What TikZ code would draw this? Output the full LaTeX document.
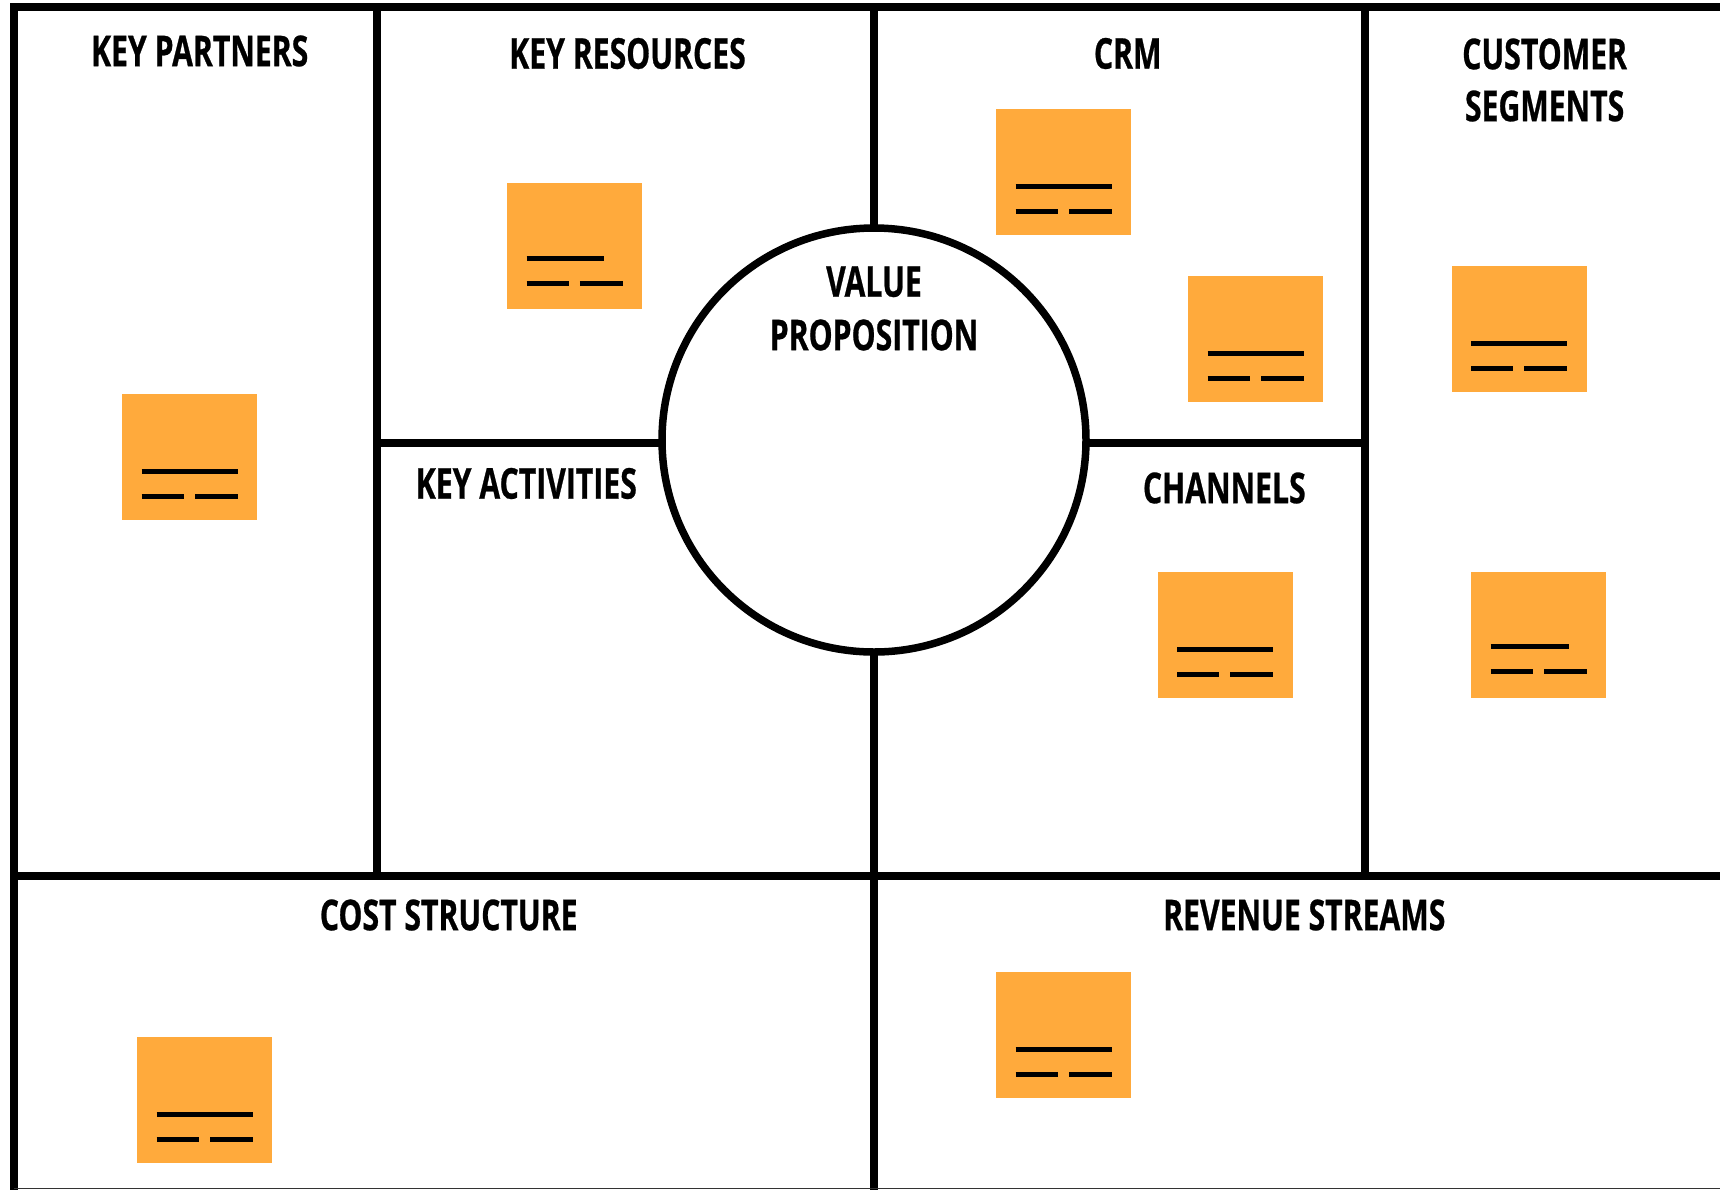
\documentclass[tikz,border=0pt]{standalone}
\usepackage{fontspec}
\setmainfont{Open Sans}[BoldFont={* Bold}]
\newfontfamily\labelfont{Open Sans Bold}[FakeStretch=0.71, FakeBold=0.6]
\definecolor{noteorange}{HTML}{FFAA3C}
\tikzset{
  grid/.style={line width=8pt, black},
  note/.style={fill=noteorange, draw=none, minimum width=135pt, minimum height=126pt, inner sep=0pt, anchor=north west},
  noteline/.style={line width=5pt, black, line cap=butt},
  title/.style={font=\labelfont\fontsize{42.5}{52}\selectfont, inner sep=0pt, align=center, text=black},
}
\newcommand\stickynote[6]{% name, x, y, long end, dy long, dy short
  \node[note] (#1) at (#2,#3) {};
  \draw[noteline] ([shift={(19.7,#5)}]#1.north west) -- ([shift={(#4,#5)}]#1.north west);
  \draw[noteline] ([shift={(19.7,#6)}]#1.north west) -- ([shift={(62,#6)}]#1.north west);
  \draw[noteline] ([shift={(73,#6)}]#1.north west) -- ([shift={(115.7,#6)}]#1.north west);
}
\begin{document}
\begin{tikzpicture}[x=1pt, y=-1pt]
\useasboundingbox (0,0) rectangle (1720,1189);
\fill[white] (0,0) rectangle (1720,1189);
% grid
\draw[grid, line join=miter] (14,1193) -- (14,7) -- (1724,7);
\draw[grid] (377,7) -- (377,876);
\draw[grid] (874,7) -- (874,1193);
\draw[grid] (1365,7) -- (1365,876);
\draw[grid] (10,876) -- (1724,876);
\draw[grid] (377,443) -- (1365,443);
\draw[line width=1.5pt, black!80] (14,1188.3) -- (1720,1188.3);
% value proposition circle
\node[circle, draw=black, fill=white, line width=7.5pt, minimum size=424pt, inner sep=0pt] (vp) at (874,440) {};
% titles
\node[title] (kp) at (199.7,51) {KEY PARTNERS};
\node[title] (kr) at (627.5,53.5) {KEY RESOURCES};
\node[title] (crm) at (1127.7,53.5) {CRM};
\node[title] (cs1) at (1544.6,54) {CUSTOMER};
\node[title] (cs2) at (1544.6,106) {SEGMENTS};
\node[title] (vp1) at (874,281.7) {VALUE};
\node[title] (vp2) at (874,335) {PROPOSITION};
\node[title] (ka) at (526.3,483.5) {KEY ACTIVITIES};
\node[title] (ch) at (1224.3,488) {CHANNELS};
\node[title] (cost) at (448.7,915) {COST STRUCTURE};
\node[title] (rev) at (1304.3,915) {REVENUE STREAMS};
% sticky notes
\stickynote{n1}{122}{394}{115.7}{77.8}{102.8}
\stickynote{n2}{506.8}{183.2}{97.6}{75.5}{100.5}
\stickynote{n3}{996}{108.6}{115.7}{77.8}{102.8}
\stickynote{n4}{1188}{275.3}{115.7}{77.8}{102.8}
\stickynote{n5}{1451.3}{265.5}{115.7}{77.8}{102.8}
\stickynote{n6}{1157.3}{571.5}{115.7}{77.8}{102.8}
\stickynote{n7}{1471}{571.5}{97.6}{75}{100}
\stickynote{n8}{996}{971.9}{115.7}{77.8}{102.8}
\stickynote{n9}{137}{1036.7}{115.7}{77.8}{102.8}
\end{tikzpicture}
\end{document}
